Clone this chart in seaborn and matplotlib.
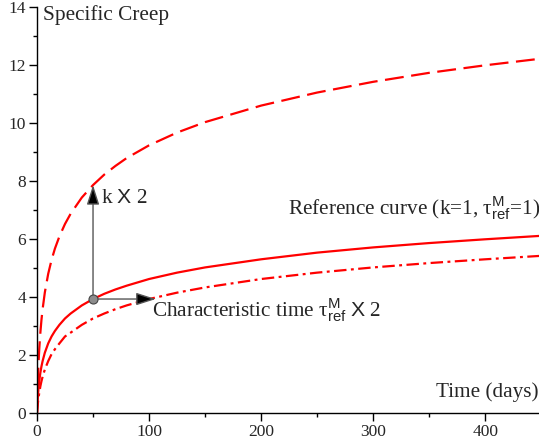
import matplotlib
matplotlib.use("Agg")
import matplotlib.pyplot as plt
from matplotlib.ticker import MultipleLocator
import pandas as pd
import seaborn as sns

# Time (days) and specific creep values for the three curves
time_days = [0, 0.25, 0.5, 1, 1.5, 2, 3, 4, 5, 7, 10, 13, 16, 20, 25, 30, 40, 50,
             60, 70, 80, 100, 125, 150, 200, 250, 300, 350, 400, 450]
reference = [0.00, 0.22, 0.41, 0.69, 0.92, 1.10, 1.39, 1.61, 1.79, 2.08, 2.40, 2.64,
             2.83, 3.04, 3.26, 3.43, 3.71, 3.93, 4.11, 4.26, 4.39, 4.62, 4.84, 5.02,
             5.30, 5.53, 5.71, 5.86, 5.99, 6.11]
k_doubled = [0.00, 0.45, 0.81, 1.39, 1.83, 2.20, 2.77, 3.22, 3.58, 4.16, 4.80, 5.28,
             5.67, 6.09, 6.52, 6.87, 7.43, 7.86, 8.22, 8.52, 8.79, 9.23, 9.67, 10.03,
             10.60, 11.05, 11.42, 11.73, 11.99, 12.22]
tau_doubled = [0.00, 0.12, 0.22, 0.41, 0.56, 0.69, 0.92, 1.10, 1.25, 1.50, 1.79, 2.03,
               2.20, 2.40, 2.64, 2.77, 3.04, 3.26, 3.43, 3.58, 3.71, 3.93, 4.15, 4.33,
               4.62, 4.84, 5.02, 5.17, 5.30, 5.42]

# Point where both variations start, and the arrow ends
origin_t, origin_v = 50, 3.93
k_arrow_end = 7.86
tau_arrow_end = 106

df = pd.DataFrame({"t": time_days, "ref": reference, "k2": k_doubled, "tau2": tau_doubled})

sns.set_theme(style="ticks")
plt.rcParams["font.family"] = ["Liberation Serif", "DejaVu Serif"]
plt.rcParams["mathtext.fontset"] = "custom"
plt.rcParams["mathtext.rm"] = "Liberation Serif"
plt.rcParams["mathtext.it"] = "Liberation Serif:italic"
plt.rcParams["mathtext.sf"] = "Liberation Sans"

fig = plt.figure(figsize=(5.39, 4.45), dpi=100)
ax = fig.add_axes([37 / 539, 1 - 413 / 445, 1 - 37 / 539, (413 - 7) / 445])

red = "#ff0000"
lw = 1.6
sns.lineplot(data=df, x="t", y="ref", ax=ax, color=red, lw=lw, sort=False)
sns.lineplot(data=df, x="t", y="k2", ax=ax, color=red, lw=lw, sort=False,
             linestyle=(0, (8.5, 3.4)))
sns.lineplot(data=df, x="t", y="tau2", ax=ax, color=red, lw=lw, sort=False,
             linestyle=(0, (5.6, 2.0, 1.3, 2.0)))

# Arrows for the two parameter changes: grey shaft, black head
arrow_kw = dict(arrowstyle="-|>,head_length=1.0,head_width=0.32",
                lw=1.0, shrinkA=0, shrinkB=0, mutation_scale=12,
                fc="black", ec="#555555")
ax.annotate("", xy=(origin_t, k_arrow_end), xytext=(origin_t, origin_v),
            arrowprops=arrow_kw)
ax.annotate("", xy=(tau_arrow_end, origin_v), xytext=(origin_t, origin_v),
            arrowprops=arrow_kw)
ax.plot([origin_t], [origin_v], "o", ms=6.5, mfc="#8c8c8c", mec="#444444", mew=0.8, zorder=5)

tau = r"$\mathrm{\tau}^{\mathsf{M}}_{\mathsf{ref}}$"
fs = 15.3
ax.text(57, 7.41, r"k $\mathsf{X}$ 2", fontsize=fs, va="center", ha="left")
ax.text(224, 7.05, "Reference curve (k=1, " + tau + "=1)", fontsize=fs, va="center", ha="left")
ax.text(103, 3.55, "Characteristic time " + tau + r" $\mathsf{X}$ 2", fontsize=fs,
        va="center", ha="left")
ax.text(448, 0.72, "Time (days)", fontsize=fs, va="center", ha="right")
ax.text(5.5, 13.72, "Specific Creep", fontsize=fs, va="center", ha="left")

ax.set_xlim(0, 448)
ax.set_ylim(0, 14)
ax.xaxis.set_major_locator(MultipleLocator(100))
ax.xaxis.set_minor_locator(MultipleLocator(50))
ax.yaxis.set_major_locator(MultipleLocator(2))
ax.yaxis.set_minor_locator(MultipleLocator(1))
ax.tick_params(which="major", length=6, width=1, color="black", labelsize=12.5, pad=2)
ax.tick_params(which="minor", length=3, width=1, color="black")
ax.set_xlabel("")
ax.set_ylabel("")
sns.despine(ax=ax)
for s in ("left", "bottom"):
    ax.spines[s].set_color("black")
    ax.spines[s].set_linewidth(1.0)

fig.savefig("out.png", dpi=100)
